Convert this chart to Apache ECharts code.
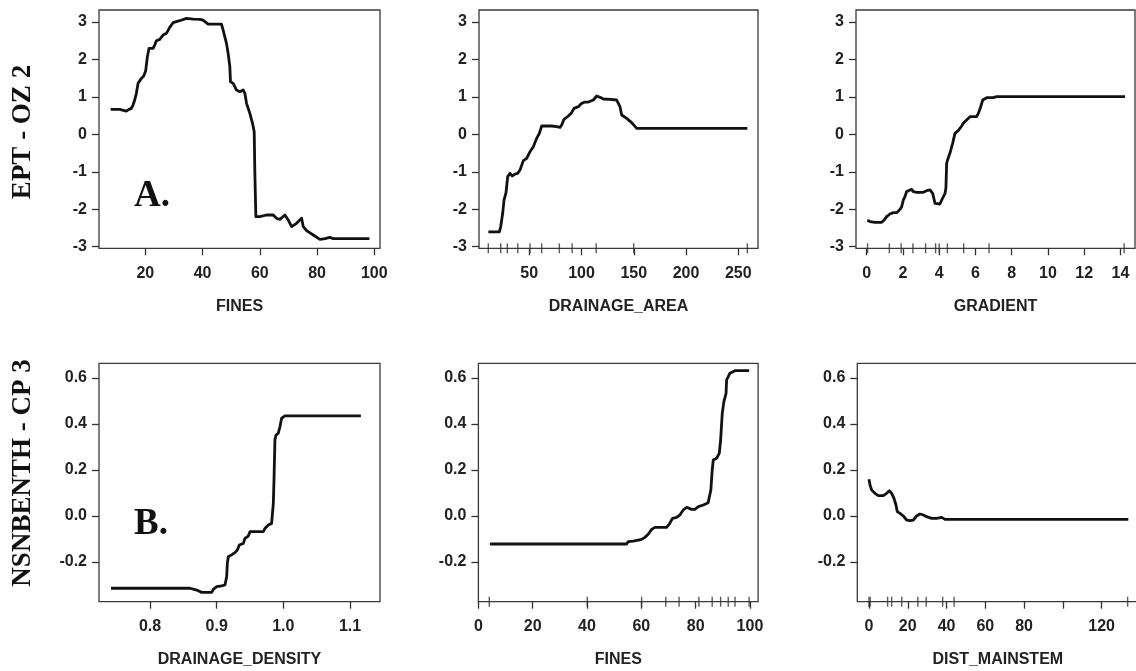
<!DOCTYPE html>
<html><head><meta charset="utf-8">
<script src="https://cdn.jsdelivr.net/npm/echarts@6/dist/echarts.min.js"></script>
<style>html,body{margin:0;padding:0;background:#fff}#c{width:1136px;height:671px}</style>
</head><body><div id="c"></div>
<script>
// ---------- DATA ----------
// Row A: EPT - OZ 2
const A_yTicks = [-3, -2, -1, 0, 1, 2, 3];
// A1: FINES
const A1_xTicks = [20, 40, 60, 80, 100];
const A1_x = [7.87,11.02,11.61,13.36,14.29,15.11,15.69,16.27,16.86,17.44,18.61,19.43,20.12,20.71,21.29,22.69,23.27,23.86,25.02,26.19,27.36,28.52,29.69,32.02,34.35,36.69,39.02,40.18,41.93,46.6,47.18,48.35,48.93,49.52,49.75,50.69,51.85,53.02,54.19,54.77,55.36,56.52,57.45,58.04,58.27,58.62,60.02,62.35,64.68,65.85,67.02,68.77,69.93,71.1,71.68,72.85,74.6,75.19,76.35,78.68,81.02,82.77,84.52,85.69,90.35,98.3];
const A1_y = [0.667,0.667,0.622,0.622,0.667,0.693,0.782,0.916,1.094,1.361,1.494,1.557,1.699,2.073,2.296,2.296,2.385,2.50,2.536,2.651,2.696,2.856,2.981,3.034,3.096,3.079,3.07,3.052,2.945,2.945,2.784,2.429,2.162,1.806,1.405,1.361,1.183,1.139,1.183,1.094,0.827,0.56,0.293,0.07,-1.045,-2.2,-2.2,-2.155,-2.155,-2.244,-2.27,-2.155,-2.288,-2.466,-2.484,-2.377,-2.244,-2.466,-2.573,-2.689,-2.805,-2.787,-2.751,-2.787,-2.787,-2.787];
// A2: DRAINAGE_AREA
const A2_xTicks = [50, 100, 150, 200, 250];
const A2_x = [10.85,21.37,22.65,24.56,25.84,27.75,29.35,31.58,33.81,36.36,38.92,41.15,44.34,47.53,50.72,53.91,57.1,59.65,61.88,63.48,66.67,71.45,76.24,79.43,81.02,83.25,87.4,90.59,92.82,96.97,100.16,103.35,106.54,111.32,114.51,117.7,120.89,127.27,133.65,136.84,138.44,143.22,148.0,152.79,162.36,258.69];
const A2_y = [-2.603,-2.603,-2.47,-2.11,-1.755,-1.56,-1.13,-1.042,-1.113,-1.06,-1.042,-0.953,-0.703,-0.641,-0.463,-0.33,-0.107,0.026,0.222,0.249,0.222,0.222,0.204,0.186,0.249,0.40,0.489,0.578,0.694,0.738,0.827,0.862,0.862,0.916,1.023,0.987,0.943,0.934,0.916,0.738,0.515,0.426,0.311,0.16,0.16,0.16];
const A2_rug = [10.8, 22.7, 29.0, 39.0, 50.7, 61.9, 78.8, 91.0, 114.0, 150.0, 258.7];
// A3: GRADIENT
const A3_xTicks = [0, 2, 4, 6, 8, 10, 12, 14];
const A3_x = [0.035,0.18,0.46,0.83,0.95,1.10,1.28,1.47,1.65,1.84,1.93,2.02,2.11,2.20,2.30,2.48,2.57,2.76,3.12,3.31,3.49,3.64,3.77,4.04,4.14,4.32,4.37,4.41,4.46,4.59,4.74,4.87,5.05,5.24,5.33,5.51,5.70,6.06,6.16,6.29,6.40,6.62,6.98,7.17,14.25];
const A3_y = [-2.296,-2.33,-2.35,-2.35,-2.296,-2.2,-2.128,-2.092,-2.092,-2.003,-1.932,-1.754,-1.665,-1.531,-1.487,-1.469,-1.531,-1.549,-1.549,-1.504,-1.487,-1.576,-1.843,-1.861,-1.754,-1.576,-1.442,-0.775,-0.686,-0.508,-0.241,0.026,0.097,0.222,0.293,0.382,0.471,0.471,0.56,0.738,0.916,0.978,0.978,1.005,1.005];
const A3_rug = [0.05, 1.25, 1.9, 2.55, 3.25, 3.8, 4.0, 4.45, 5.35, 6.75, 14.2];

// Row B: NSNBENTH - CP 3
const B_yTicks = [-0.2, 0, 0.2, 0.4, 0.6];
// B1: DRAINAGE_DENSITY
const B1_xTicks = [0.8, 0.9, 1.0, 1.1];
const B1_x = [0.7415,0.86,0.87,0.8775,0.8925,0.895,0.90,0.9074,0.9124,0.915,0.916,0.9174,0.9224,0.9274,0.931,0.934,0.94,0.9424,0.9474,0.95,0.9574,0.97,0.9724,0.9774,0.9824,0.985,0.986,0.9874,0.989,0.9924,0.995,0.9974,1.0024,1.1163];
const B1_y = [-0.315,-0.315,-0.323,-0.333,-0.333,-0.32,-0.308,-0.305,-0.301,-0.265,-0.207,-0.178,-0.170,-0.16,-0.149,-0.127,-0.12,-0.098,-0.088,-0.069,-0.069,-0.069,-0.055,-0.04,-0.033,0.054,0.156,0.33,0.351,0.359,0.388,0.424,0.434,0.434];
// B2: FINES
const B2_xTicks = [0, 20, 40, 60, 80, 100];
const B2_x = [4.27,54.6,55.2,57.0,58.9,60.1,61.3,62.6,63.8,65.0,66.9,69.3,70.3,71.5,73.0,74.2,75.4,76.7,78.5,79.7,81.0,82.8,84.6,85.3,85.6,86.1,86.5,87.7,88.7,89.2,89.8,90.4,91.2,91.4,92.6,94.5,99.7];
const B2_y = [-0.1226,-0.1226,-0.1125,-0.110,-0.1055,-0.1026,-0.0939,-0.0794,-0.059,-0.0504,-0.0504,-0.0504,-0.0359,-0.011,-0.0067,0.0035,0.0252,0.0368,0.0281,0.0281,0.0397,0.047,0.0571,0.0614,0.112,0.199,0.2426,0.25,0.2716,0.3296,0.4455,0.4962,0.5325,0.5904,0.6194,0.631,0.631];
const B2_rug = [4.0, 40.1, 60.1, 69.0, 73.9, 81.2, 86.1, 89.2, 92.0, 94.5, 99.7];
// B3: DIST_MAINSTEM
const B3_xTicks = [0, 20, 40, 60, 80, 100, 120];
const B3_xLabels = [0, 20, 40, 60, 80, 120];
const B3_x = [0,0.52,1.38,3.09,4.81,7.39,9.11,10.49,11.69,12.89,13.92,14.61,15.99,17.71,19.43,21.14,22.86,24.58,26.3,28.02,29.74,32.32,34.9,37.48,39.2,46.93,133.75];
const B3_y = [0.1586,0.134,0.112,0.0977,0.0875,0.0875,0.0977,0.109,0.0977,0.076,0.047,0.018,0.0107,-0.0009,-0.0183,-0.021,-0.0183,-0.0009,0.0078,0.0035,-0.0038,-0.011,-0.011,-0.0067,-0.0154,-0.0154,-0.0154];
const B3_rug = [0, 0.6, 9.6, 11.7, 16.9, 25.2, 29.5, 38.0, 43.9, 133.4];

const rowLabels = ['EPT - OZ 2', 'NSNBENTH - CP 3'];
const panelLetters = ['A.', 'B.'];

// ---------- LAYOUT ----------
const sans = '"Liberation Sans", Arial, Helvetica, sans-serif';
const serif = '"Liberation Serif", "Times New Roman", serif';
const panels = [
  {g:{left:99, top:10, width:281, height:238.3}, xMin:3.8, xMax:102, xT:A1_xTicks, xL:A1_xTicks, xd:0, yMin:-3.044, yMax:3.32, yT:A_yTicks, yd:0, xs:A1_x, ys:A1_y, rug:null, name:'FINES'},
  {g:{left:479, top:10, width:279, height:238.3}, xMin:1.9, xMax:268.9, xT:A2_xTicks, xL:A2_xTicks, xd:0, yMin:-3.044, yMax:3.32, yT:A_yTicks, yd:0, xs:A2_x, ys:A2_y, rug:A2_rug, name:'DRAINAGE_AREA'},
  {g:{left:856, top:10, width:279, height:238.3}, xMin:-0.59, xMax:14.8, xT:A3_xTicks, xL:A3_xTicks, xd:0, yMin:-3.044, yMax:3.32, yT:A_yTicks, yd:0, xs:A3_x, ys:A3_y, rug:A3_rug, name:'GRADIENT'},
  {g:{left:99, top:363.3, width:281, height:238.4}, xMin:0.7235, xMax:1.145, xT:B1_xTicks, xL:B1_xTicks, xd:1, yMin:-0.3735, yMax:0.663, yT:B_yTicks, yd:1, xs:B1_x, ys:B1_y, rug:null, name:'DRAINAGE_DENSITY'},
  {g:{left:478.4, top:363.3, width:279.7, height:238.4}, xMin:0, xMax:103, xT:B2_xTicks, xL:B2_xTicks, xd:0, yMin:-0.3735, yMax:0.663, yT:B_yTicks, yd:1, xs:B2_x, ys:B2_y, rug:B2_rug, name:'FINES'},
  {g:{left:857.3, top:363.3, width:281, height:238.4}, xMin:-6.03, xMax:138.9, xT:B3_xTicks, xL:B3_xLabels, xd:0, yMin:-0.3735, yMax:0.663, yT:B_yTicks, yd:1, xs:B3_x, ys:B3_y, rug:B3_rug, name:'DIST_MAINSTEM'}
];

const tickStyle = {color:'#333', width:1.3};
const labelStyle = {fontSize:16, fontWeight:'bold', color:'#222', fontFamily:sans};

const option = {
  animation:false,
  backgroundColor:'#fff',
  grid: panels.map(p => Object.assign({show:true, borderColor:'#3a3a3a', borderWidth:1.3, backgroundColor:'transparent', containLabel:false, outerBoundsMode:'none'}, p.g)),
  xAxis: panels.map((p,i) => ({
    type:'value', gridIndex:i, min:p.xMin, max:p.xMax, position:'bottom',
    axisLine:{show:false, onZero:false}, splitLine:{show:false},
    axisTick:{show:true, length:7, customValues:p.xT, lineStyle:tickStyle},
    axisLabel:Object.assign({show:true, customValues:p.xL, margin:17, formatter:v => Number(v).toFixed(p.xd)}, labelStyle),
    name:p.name, nameLocation:'middle', nameGap:50,
    nameTextStyle:{fontSize:16, fontWeight:'bold', color:'#222', fontFamily:sans}
  })),
  yAxis: panels.map((p,i) => ({
    type:'value', gridIndex:i, min:p.yMin, max:p.yMax, position:'left',
    axisLine:{show:false, onZero:false}, splitLine:{show:false},
    axisTick:{show:true, length:7, customValues:p.yT, lineStyle:tickStyle},
    axisLabel:Object.assign({show:true, customValues:p.yT, margin:12, formatter:v => Number(v).toFixed(p.yd)}, labelStyle)
  })),
  series: [],
  graphic: [
    {type:'text', x:23, y:132, rotation:Math.PI/2, style:{text:rowLabels[0], font:'bold 27px ' + serif, fill:'#111', align:'center', verticalAlign:'middle'}},
    {type:'text', x:23, y:473, rotation:Math.PI/2, style:{text:rowLabels[1], font:'bold 27px ' + serif, fill:'#111', align:'center', verticalAlign:'middle'}},
    {type:'text', x:134, y:196, style:{text:panelLetters[0], font:'bold 37px ' + serif, fill:'#111', align:'left', verticalAlign:'middle'}},
    {type:'text', x:134, y:524, style:{text:panelLetters[1], font:'bold 37px ' + serif, fill:'#111', align:'left', verticalAlign:'middle'}}
  ]
};

panels.forEach((p,i) => {
  option.series.push({
    type:'line', xAxisIndex:i, yAxisIndex:i, silent:true,
    data:p.xs.map((x,k) => [x, p.ys[k]]),
    showSymbol:false, symbol:'none',
    lineStyle:{color:'#111', width:2.8, join:'round'}
  });
  if (p.rug) {
    option.series.push({
      type:'scatter', xAxisIndex:i, yAxisIndex:i, silent:true, clip:false,
      data:p.rug.map(v => [v, p.yMin]),
      symbol:'rect', symbolSize:[1.4, 10],
      itemStyle:{color:'#333'}
    });
  }
});

const chart = echarts.init(document.getElementById('c'), null, {renderer:'canvas'});
chart.setOption(option);
</script>
</body></html>
